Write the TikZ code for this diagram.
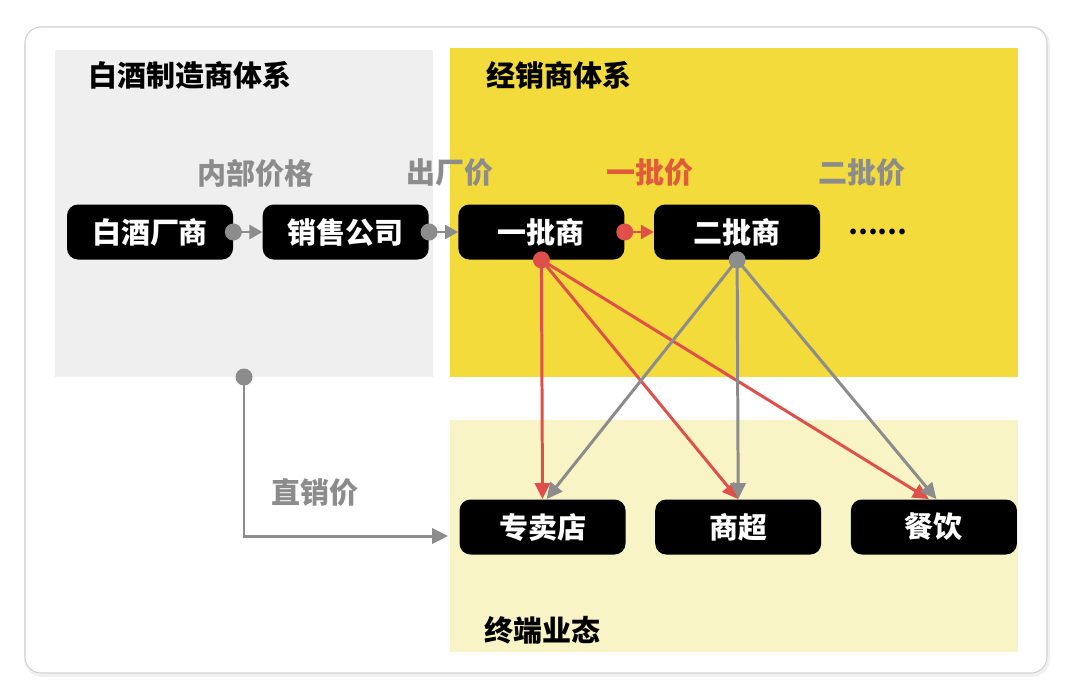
\documentclass[tikz,border=0pt]{standalone}
\usepackage{fontspec}
\setmainfont{Noto Sans CJK SC}
\usepackage{xcolor}
\usepackage{tikz}
\usetikzlibrary{arrows.meta,positioning}

\definecolor{panelgray}{HTML}{EFEFEF}
\definecolor{panelyellow}{HTML}{F2DB3A}
\definecolor{paleyellow}{HTML}{F8F4C6}
\definecolor{linegray}{HTML}{8C8C8C}
\definecolor{linered}{HTML}{E0504A}
\definecolor{labelred}{HTML}{E05A3C}

\begin{document}
\begin{tikzpicture}[
  font=\fontsize{16.5}{18}\selectfont\bfseries,
  node distance=0.58cm,
  box/.style={fill=black, text=white, rounded corners=0.22cm, minimum width=3.32cm, minimum height=1.1cm, inner sep=0pt},
  title/.style={anchor=west, text=black},
  price/.style={text=linegray},
  dot/.style={fill=linegray},
  rdot/.style={fill=linered},
  garr/.style={draw=linegray, line width=1.7pt, -{Triangle[length=3.2mm, width=3mm]}},
  rarr/.style={garr, draw=linered},
  sarr/.style={draw=linegray, line width=1.7pt, -{Triangle[length=2.6mm, width=2.8mm]}}
]
  \useasboundingbox (0,0) rectangle (21.6,13.9);
  % card and panels
  \draw[gray!12, line width=2pt, rounded corners=0.32cm] (0.52,0.40) rectangle (20.96,13.34);
  \draw[gray!35, line width=0.6pt, fill=white, rounded corners=0.32cm] (0.5,0.44) rectangle (20.94,13.36);
  \fill[panelgray] (1.1,6.36) rectangle (8.66,12.9);
  \fill[panelyellow] (9.0,6.36) rectangle (20.36,12.94);
  \fill[paleyellow] (9.0,0.86) rectangle (20.36,5.5);

  \node[title] (t1) at (1.65,12.4) {白酒制造商体系};
  \node[title] (t2) at (9.6,12.4) {经销商体系};
  \node[title] (t3) at (9.56,1.3) {终端业态};

  % distribution chain
  \node[box] (maker) at (3.0,9.26) {白酒厂商};
  \node[box, right=of maker] (sales) {销售公司};
  \node[box, right=of sales] (first) {一批商};
  \node[box, right=of first] (second) {二批商};
  \node[right=0.55cm of second, font=\fontsize{15}{16}\selectfont\bfseries, inner sep=0pt] (more) {……};

  % terminals
  \node[box] (store) at (10.85,3.36) {专卖店};
  \node[box, right=of store] (market) {商超};
  \node[box, right=of market] (dining) {餐饮};

  % prices
  \node[price] (p1) at (5.1,10.44) {内部价格};
  \node[price] (p2) at (9.0,10.44) {出厂价};
  \node[text=labelred] (p3) at (13.0,10.44) {一批价};
  \node[price] (p4) at (17.24,10.44) {二批价};
  \node[price] (p5) at (6.3,4.04) {直销价};

  \draw[sarr] (maker.east) -- (sales.west);
  \draw[sarr] (sales.east) -- (first.west);
  \draw[sarr, draw=linered] (first.east) -- (second.west);
  \fill[dot] (maker.east) circle (0.17);
  \fill[dot] (sales.east) circle (0.17);
  \fill[rdot] (first.east) circle (0.17);

  \draw[rarr] (first.south) -- (store.north);
  \draw[rarr] (first.south) -- (market.north);
  \draw[rarr] (first.south) -- ([xshift=-0.1cm]dining.north);
  \draw[garr] (second.south) -- ([xshift=0.08cm]store.north);
  \draw[garr] (second.south) -- (market.north);
  \draw[garr] (second.south) -- ([xshift=0.05cm]dining.north);
  \fill[rdot] (first.south) circle (0.17);
  \fill[dot] (second.south) circle (0.17);

  % direct sales
  \coordinate (dsrc) at (4.88,6.36);
  \draw[garr, shorten >=0.22cm] (dsrc) |- ([yshift=-0.18cm]store.west);
  \fill[dot] (dsrc) circle (0.17);
\end{tikzpicture}
\end{document}
